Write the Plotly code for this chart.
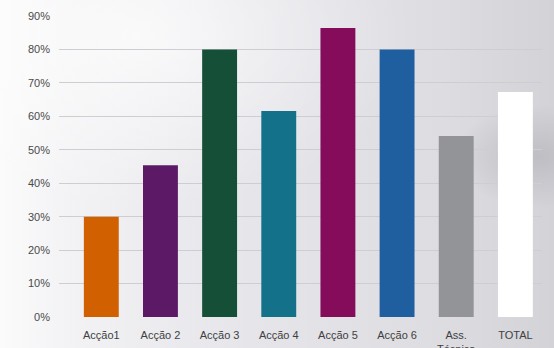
import base64
import plotly.graph_objects as go

categories = ["Acção1", "Acção 2", "Acção 3", "Acção 4", "Acção 5", "Acção 6", "Ass.<br>Técnica", "TOTAL"]
values = [30, 45.4, 80, 61.6, 86.4, 80, 54.1, 67.3]
colors = ["#D06000", "#5C1A66", "#154F38", "#13728A", "#840C5A", "#1F5F9F", "#939498", "#FFFFFF"]
y_ticks = [0, 10, 20, 30, 40, 50, 60, 70, 80, 90]
y_tick_labels = ["0%", "10%", "20%", "30%", "40%", "50%", "60%", "70%", "80%", "90%"]

svg = """<svg xmlns='http://www.w3.org/2000/svg' width='554' height='348'>
<defs>
<linearGradient id='g' x1='0' y1='0' x2='1' y2='0'>
<stop offset='0' stop-color='#fbfbfc'/>
<stop offset='0.12' stop-color='#f3f3f5'/>
<stop offset='0.45' stop-color='#e5e5ea'/>
<stop offset='0.8' stop-color='#dcdce1'/>
<stop offset='1' stop-color='#d2d2d7'/>
</linearGradient>
<radialGradient id='r' cx='0.25' cy='0.1' r='0.5'>
<stop offset='0' stop-color='#ffffff' stop-opacity='0.7'/>
<stop offset='1' stop-color='#ffffff' stop-opacity='0'/>
</radialGradient>
<radialGradient id='d' cx='0.97' cy='0.45' r='0.15'>
<stop offset='0' stop-color='#b8b8be' stop-opacity='0.8'/>
<stop offset='1' stop-color='#b8b8be' stop-opacity='0'/>
</radialGradient>
</defs>
<rect width='554' height='348' fill='url(#g)'/>
<rect width='554' height='348' fill='url(#r)'/>
<rect width='554' height='348' fill='url(#d)'/>
</svg>"""
src = "data:image/svg+xml;base64," + base64.b64encode(svg.encode()).decode()

W, H = 554, 348
ml, mr, mt, mb = 59, 12, 16, 31
pw, ph = W - ml - mr, H - mt - mb

fig = go.Figure(go.Bar(
    x=categories, y=values, marker=dict(color=colors, line=dict(width=0)),
    width=0.59,
))

fig.update_layout(
    width=W, height=H,
    margin=dict(l=ml, r=mr, t=mt, b=mb, autoexpand=False),
    paper_bgcolor="#e6e6ea",
    plot_bgcolor="rgba(0,0,0,0)",
    showlegend=False,
    font=dict(family="Liberation Sans, Arial, sans-serif", size=11, color="#505050"),
    images=[dict(source=src, xref="paper", yref="paper",
                 x=-ml / pw, y=1 + mt / ph, sizex=W / pw, sizey=H / ph,
                 sizing="stretch", xanchor="left", yanchor="top", layer="below")],
    xaxis=dict(range=[-0.715, 7.45], showgrid=False, showline=False, zeroline=False,
               automargin=False, ticks="", ticklabelstandoff=10,
               tickfont=dict(size=11, color="#404040")),
    yaxis=dict(range=[0, 90], tickvals=y_ticks, ticktext=y_tick_labels, showgrid=True,
               automargin=False, gridcolor="#cdcdd3", gridwidth=1, zeroline=False,
               showline=False, ticks="", ticklabelstandoff=8,
               tickfont=dict(size=11, color="#4a4a4a")),
)

fig.write_html("out.html")
